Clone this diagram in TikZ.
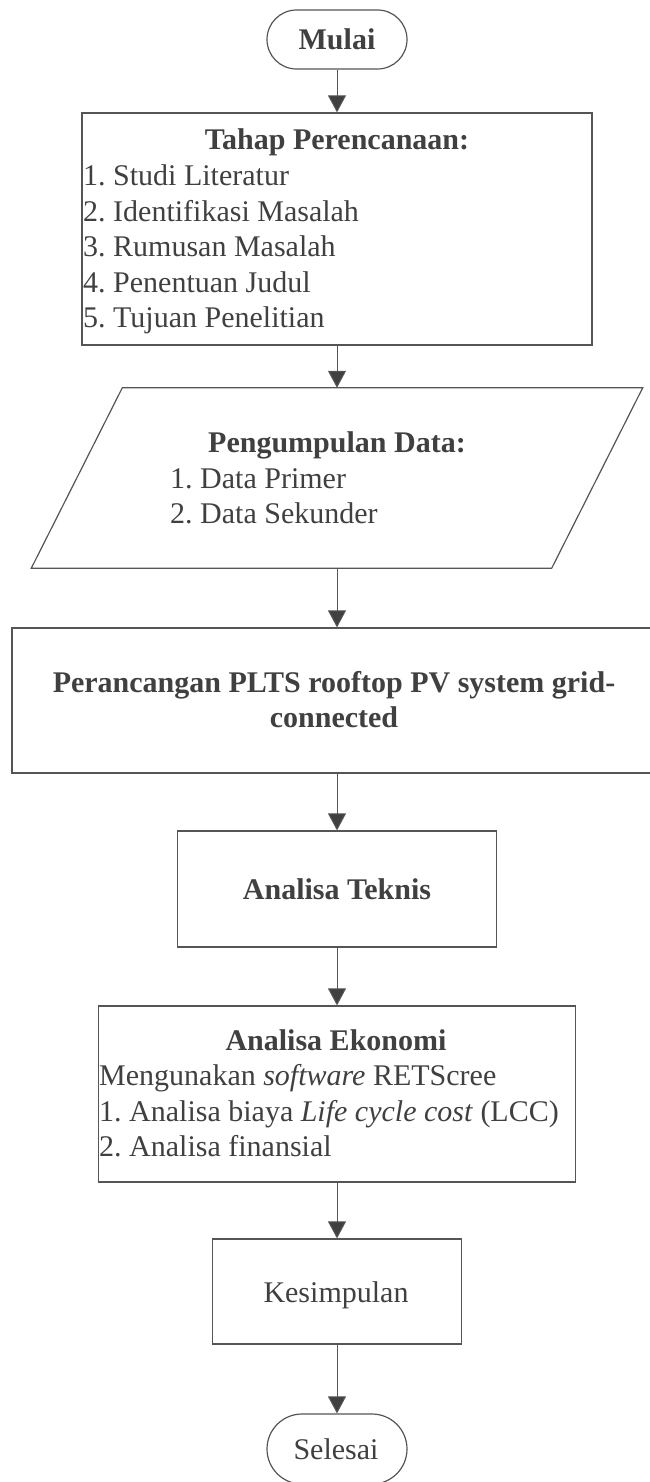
\documentclass[tikz,border=0pt]{standalone}
\usepackage{fontspec}
\setmainfont{Liberation Serif}
\usetikzlibrary{arrows.meta,shapes.misc}
\definecolor{ln}{HTML}{555555}
\definecolor{tx}{HTML}{404040}
\frenchspacing
\begin{document}
\begin{tikzpicture}[x=1pt,y=-1pt,
  boxshape/.style={draw=ln, line width=1.2pt, rectangle, inner sep=0pt},
  term/.style={draw=ln, line width=1.2pt, rounded rectangle, inner sep=0pt, minimum width=140pt},
  ghost/.style={draw=none, rectangle, inner sep=0pt},
  txt/.style={text=tx, inner sep=0pt, font=\fontsize{30}{35.5}\selectfont\frenchspacing},
  btxt/.style={txt, font=\fontsize{30}{35.5}\selectfont\bfseries\frenchspacing},
  arr/.style={draw=ln, line width=1pt, -{Triangle[length=17pt,width=18pt,fill=tx]}}
]
\useasboundingbox (0,0) rectangle (650,1482);
\clip (0,0) rectangle (650,1482);

% shapes
\node[term, minimum height=59pt] (start) at (337,39.5) {};
\node[boxshape, minimum width=510pt, minimum height=232pt] (plan) at (337,229) {};
\node[ghost, minimum width=520pt, minimum height=180pt] (data) at (337,478) {};
\draw[draw=ln, line width=1.2pt]
  ([xshift=45.5pt]data.north west) -- ([xshift=45.5pt]data.north east) --
  ([xshift=-45.5pt]data.south east) -- ([xshift=-45.5pt]data.south west) -- cycle;
\node[boxshape, minimum width=650pt, minimum height=145pt] (design) at (337,700.5) {};
\node[boxshape, minimum width=319pt, minimum height=116pt] (tech) at (337,889) {};
\node[boxshape, minimum width=477pt, minimum height=176pt] (econ) at (337,1094) {};
\node[boxshape, minimum width=249pt, minimum height=105pt] (concl) at (337,1291.5) {};
\node[term, minimum height=70pt] (stop) at (337,1449) {};

% texts
\node[btxt, anchor=base] (tStart) at (337,49.5) {Mulai};

\node[btxt, anchor=base] (tPlan) at (337,150) {Tahap Perencanaan:};
\node[txt, anchor=base west] (tPlan1) at (83,185.5) {1. Studi Literatur};
\node[txt, anchor=base west] (tPlan2) at (83,221) {2. Identifikasi Masalah};
\node[txt, anchor=base west] (tPlan3) at (83,256.5) {3. Rumusan Masalah};
\node[txt, anchor=base west] (tPlan4) at (83,292) {4. Penentuan Judul};
\node[txt, anchor=base west] (tPlan5) at (83,327.5) {5. Tujuan Penelitian};

\node[btxt, anchor=base] (tData) at (337,452) {Pengumpulan Data:};
\node[txt, anchor=base west] (tData1) at (170,488) {1. Data Primer};
\node[txt, anchor=base west] (tData2) at (170,523.5) {2. Data Sekunder};

\node[btxt, anchor=base] (tDesign1) at (334,692) {Perancangan PLTS rooftop PV system grid-};
\node[btxt, anchor=base] (tDesign2) at (334,727.5) {connected};

\node[btxt, anchor=base] (tTech) at (337,899) {Analisa Teknis};

\node[btxt, anchor=base] (tEcon) at (336,1050) {Analisa Ekonomi};
\node[txt, anchor=base west] (tEcon1) at (99,1085.5) {Mengunakan \textit{software} RETScree};
\node[txt, anchor=base west] (tEcon2) at (99,1121) {1. Analisa biaya \textit{Life cycle cost} (LCC)};
\node[txt, anchor=base west] (tEcon3) at (99,1156.5) {2. Analisa finansial};

\node[txt, anchor=base] (tConcl) at (336,1302) {Kesimpulan};
\node[txt, anchor=base] (tStop) at (336,1459) {Selesai};

% connectors
\draw[arr] (start.south) -- (plan.north);
\draw[arr] (plan.south) -- (data.north);
\draw[arr] (data.south) -- (design.north);
\draw[arr] (design.south) -- (tech.north);
\draw[arr] (tech.south) -- (econ.north);
\draw[arr] (econ.south) -- (concl.north);
\draw[arr] (concl.south) -- (stop.north);
\end{tikzpicture}
\end{document}
